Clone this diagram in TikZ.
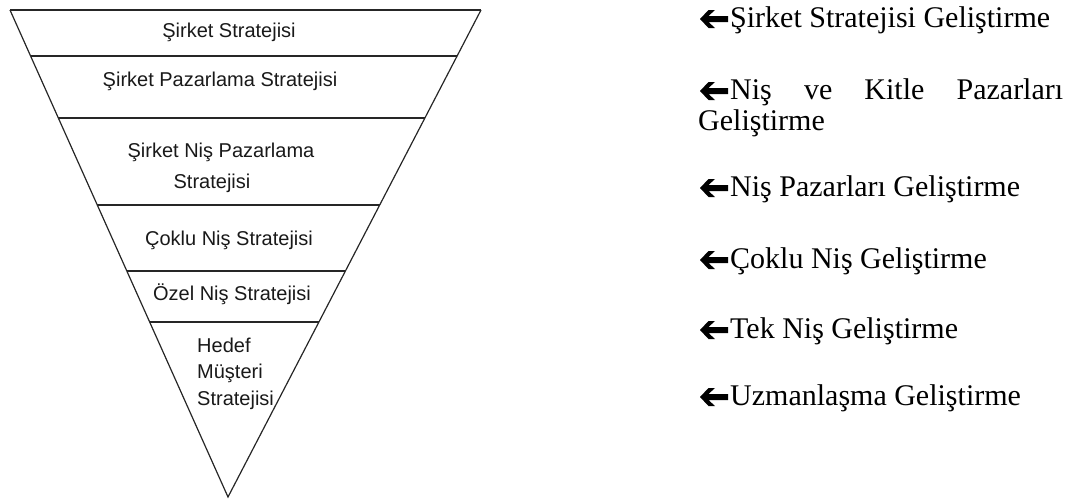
\documentclass[tikz,border=0pt]{standalone}
\usepackage{fontspec}
\setmainfont{Liberation Serif}
\newfontfamily\labelsans{Liberation Sans}
\usetikzlibrary{calc}
\begin{document}
\begin{tikzpicture}[x=1pt,y=-1pt,
  edge/.style={line width=1.2pt, black!85},
  band/.style={font=\labelsans\fontsize{20}{24}\selectfont, text=black!90, inner sep=0pt, anchor=base},
  bandleft/.style={band, anchor=base west},
  devtext/.style={font=\fontsize{30}{31}\selectfont, inner sep=0pt, anchor=base west},
  larrow/.pic={\fill (0,0) -- (8.5,-9) -- (15,-9) -- (8.5,-3) -- (28,-3) -- (28,3) -- (8.5,3) -- (15,9) -- (8.5,9) -- cycle;}
]
\useasboundingbox (0,0) rectangle (1080,499);

% inverted triangle
\coordinate (TL) at (10,10);
\coordinate (TR) at (481,10);
\coordinate (A) at (228,497);
\draw[edge] (TL) -- (A) -- (TR);
\draw[edge, line width=1.8pt] (TL) -- (TR);

% band dividers
\foreach \t [count=\i] in {0.0945,0.2218,0.4004,0.5359,0.6407}{
  \coordinate (L\i) at ($(TL)!\t!(A)$);
  \coordinate (R\i) at ($(TR)!\t!(A)$);
  \draw[edge] (L\i) -- (R\i);
}

% band labels
\node[band] (b1) at (229,37) {Şirket Stratejisi};
\node[band] (b2) at (220,86) {Şirket Pazarlama Stratejisi};
\node[band] (b3a) at (221,157) {Şirket Niş Pazarlama};
\node[band] (b3b) at (212,188) {Stratejisi};
\node[band] (b4) at (229,245) {Çoklu Niş Stratejisi};
\node[band] (b5) at (232,300) {Özel Niş Stratejisi};
\node[bandleft] (b6a) at (197,352) {Hedef};
\node[bandleft] (b6b) at (197,378) {Müşteri};
\node[bandleft] (b6c) at (197,405) {Stratejisi};

% development labels with their arrows
\foreach \y/\txt [count=\i] in {27/{Şirket Stratejisi Geliştirme},196/{Niş Pazarları Geliştirme},268/{Çoklu Niş Geliştirme},338/{Tek Niş Geliştirme},405/{Uzmanlaşma Geliştirme}}{
  \node[devtext] (d\i) at (730,\y) {\txt};
  \pic at ($(d\i.base west)+(-30,-8)$) {larrow};
}
\node[devtext] (k1) at (698,99) {\hbox to 365pt{\hspace*{32pt}Niş\hfill ve\hfill Kitle\hfill Pazarları}};
\node[devtext] (k2) at (698,130) {Geliştirme};
\pic at (700,91) {larrow};
\end{tikzpicture}
\end{document}
